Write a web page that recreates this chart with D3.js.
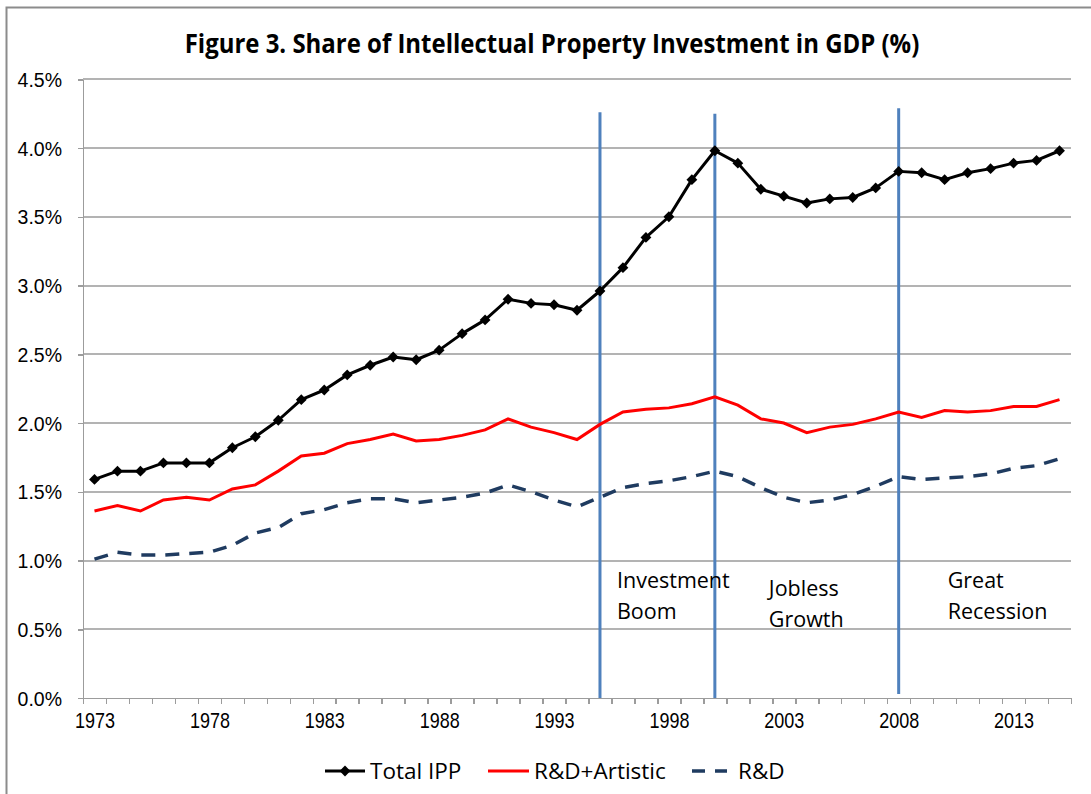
<!DOCTYPE html>
<meta charset="utf-8">
<style>
    body {
        margin: 0;
        background: #fff;
    }
    svg {
        font-family: "Open Sans", sans-serif;
    }
    .grid line {
        stroke: #b3b3b3;
        stroke-width: 1.5;
        shape-rendering: crispEdges;
    }
    .axis path,
    .axis line {
        fill: none;
        stroke: #9c9c9c;
        stroke-width: 1.5;
        shape-rendering: crispEdges;
    }
    .axis text {
        fill: #000;
    }
</style>
<body>
<script src="https://d3js.org/d3.v7.min.js"></script>
<script>
    // values (percent of GDP)
    const years = d3.range(1973, 2016);
    const totalIPP = [1.59, 1.65, 1.65, 1.71, 1.71, 1.71, 1.82, 1.90, 2.02, 2.17,
        2.24, 2.35, 2.42, 2.48, 2.46, 2.53, 2.65, 2.75, 2.90, 2.87,
        2.86, 2.82, 2.96, 3.13, 3.35, 3.50, 3.77, 3.98, 3.89, 3.70,
        3.65, 3.60, 3.63, 3.64, 3.71, 3.83, 3.82, 3.77, 3.82, 3.85,
        3.89, 3.91, 3.98];
    const rdArtistic = [1.36, 1.40, 1.36, 1.44, 1.46, 1.44, 1.52, 1.55, 1.65, 1.76,
        1.78, 1.85, 1.88, 1.92, 1.87, 1.88, 1.91, 1.95, 2.03, 1.97,
        1.93, 1.88, 1.99, 2.08, 2.10, 2.11, 2.14, 2.19, 2.13, 2.03,
        2.00, 1.93, 1.97, 1.99, 2.03, 2.08, 2.04, 2.09, 2.08, 2.09,
        2.12, 2.12, 2.17];
    const rd = [1.01, 1.06, 1.04, 1.04, 1.05, 1.06, 1.11, 1.20, 1.24, 1.34,
        1.37, 1.42, 1.45, 1.45, 1.42, 1.44, 1.46, 1.49, 1.55, 1.50,
        1.44, 1.39, 1.46, 1.53, 1.56, 1.58, 1.61, 1.65, 1.61, 1.53,
        1.46, 1.42, 1.44, 1.48, 1.54, 1.61, 1.59, 1.60, 1.61, 1.63,
        1.67, 1.69, 1.74];
    const yTicks = [0, 0.5, 1, 1.5, 2, 2.5, 3, 3.5, 4, 4.5];
    const xLabels = [1973, 1978, 1983, 1988, 1993, 1998, 2003, 2008, 2013];

    // period markers: year, top and bottom of the drawn line (in %)
    const periodYears = [1995, 2000, 2008];
    const periodTops = [4.26, 4.25, 4.29];
    const periodBottoms = [0, 0, 0.03];
    const periodLabels = [["Investment", "Boom"], ["Jobless", "Growth"], ["Great", "Recession"]];

    const seriesNames = ["Total IPP", "R&D+Artistic", "R&D"];

    const W = 1091, H = 794;
    const svg = d3.select("body").append("svg")
        .attr("width", W)
        .attr("height", H);

    // outer chart border (continues past the right and bottom edges)
    svg.append("rect")
        .attr("x", 6.5).attr("y", 7.5)
        .attr("width", W + 20).attr("height", H + 20)
        .attr("fill", "none")
        .attr("stroke", "#8c8c8c")
        .attr("stroke-width", 2);

    const x = d3.scaleLinear().domain([1972.5, 2015.5]).range([83, 1071]);
    const y = d3.scaleLinear().domain([0, 4.5]).range([698, 79.25]);

    // gridlines
    svg.append("g")
        .attr("class", "grid")
        .selectAll("line")
        .data(yTicks.filter(d => d > 0))
        .enter().append("line")
        .attr("x1", x.range()[0])
        .attr("x2", x.range()[1])
        .attr("y1", d => Math.round(y(d)))
        .attr("y2", d => Math.round(y(d)));

    // y axis
    const yAxis = svg.append("g")
        .attr("class", "axis")
        .attr("transform", "translate(" + x.range()[0] + ",0)")
        .call(d3.axisLeft(y).tickValues(yTicks).tickSize(5).tickSizeOuter(0)
            .tickPadding(16).tickFormat(d => d.toFixed(1) + "%"));
    yAxis.selectAll("text")
        .style("font-size", "19.5px")
        .attr("dy", "0.36em");

    // x axis: ticks on category boundaries
    svg.append("g")
        .attr("class", "axis")
        .attr("transform", "translate(0," + y(0) + ")")
        .call(d3.axisBottom(x).tickValues(d3.range(1972.5, 2016, 1)).tickSize(6)
            .tickSizeOuter(0).tickFormat(""));

    const xLab = svg.append("g")
        .attr("transform", "translate(0," + y(0) + ")")
        .call(d3.axisBottom(x).tickValues(xLabels).tickSize(0).tickPadding(13)
            .tickFormat(d3.format("d")));
    xLab.select(".domain").remove();
    xLab.selectAll("text")
        .style("font-size", "20px")
        .attr("fill", "#000")
        .attr("transform", "scale(0.9,1.1)");

    // period markers
    svg.append("g")
        .selectAll("line")
        .data(periodYears)
        .enter().append("line")
        .attr("x1", d => x(d)).attr("x2", d => x(d))
        .attr("y1", (d, i) => y(periodTops[i]))
        .attr("y2", (d, i) => y(periodBottoms[i]))
        .attr("stroke", "#4f81bd")
        .attr("stroke-width", 3);

    const ann = svg.append("g")
        .selectAll("text")
        .data(periodLabels)
        .enter().append("text")
        .attr("x", (d, i) => x(periodYears[i]) + [17, 54, 49][i])
        .attr("y", (d, i) => y([0.80, 0.74, 0.80][i]))
        .style("font-size", "21.5px")
        .attr("fill", "#000");
    ann.selectAll("tspan")
        .data(d => d)
        .enter().append("tspan")
        .attr("x", function() { return this.parentNode.getAttribute("x"); })
        .attr("dy", (d, i) => i === 0 ? 0 : 31)
        .text(d => d);

    // series
    const line = d3.line()
        .x((d, i) => x(years[i]))
        .y(d => y(d));

    svg.append("path")
        .datum(rd)
        .attr("d", line)
        .attr("fill", "none")
        .attr("stroke", "#1f3b60")
        .attr("stroke-width", 3.5)
        .attr("stroke-dasharray", "14,10");

    svg.append("path")
        .datum(rdArtistic)
        .attr("d", line)
        .attr("fill", "none")
        .attr("stroke", "#ff0000")
        .attr("stroke-width", 3);

    svg.append("path")
        .datum(totalIPP)
        .attr("d", line)
        .attr("fill", "none")
        .attr("stroke", "#000")
        .attr("stroke-width", 3)
        .attr("stroke-linejoin", "round");

    const diamond = d3.symbol().type(d3.symbolDiamond2).size(75);
    svg.append("g")
        .selectAll("path")
        .data(totalIPP)
        .enter().append("path")
        .attr("d", diamond)
        .attr("transform", (d, i) => "translate(" + x(years[i]) + "," + y(d) + ")")
        .attr("fill", "#000");

    // title
    const title = svg.append("text")
        .attr("x", 552)
        .attr("y", 53)
        .attr("text-anchor", "middle")
        .style("font-size", "27.5px")
        .style("font-weight", "bold")
        .text("Figure 3. Share of Intellectual Property Investment in GDP (%)");
    const tw = title.node().getComputedTextLength();
    title.attr("transform", "translate(552,0) scale(" + (735 / tw) + ",1) translate(-552,0)");

    // legend
    const legend = svg.append("g").attr("transform", "translate(0,771)");
    const legX = [325, 488, 692];
    const legW = [40, 41, 35];
    const legStroke = ["#000", "#ff0000", "#1f3b60"];
    const legItem = legend.selectAll("g")
        .data(seriesNames)
        .enter().append("g")
        .attr("transform", (d, i) => "translate(" + legX[i] + ",0)");
    legItem.append("line")
        .attr("x1", 0).attr("x2", (d, i) => legW[i])
        .attr("stroke", (d, i) => legStroke[i])
        .attr("stroke-width", (d, i) => i === 2 ? 3.5 : 3)
        .attr("stroke-dasharray", (d, i) => i === 2 ? "13,10" : null);
    legItem.filter((d, i) => i === 0).append("path")
        .attr("d", diamond)
        .attr("transform", "translate(20,0)");
    legItem.append("text")
        .attr("x", (d, i) => legW[i] + [5, 5, 11][i])
        .attr("y", 0)
        .attr("dy", "0.36em")
        .style("font-size", "22.5px")
        .text(d => d);
</script>
</body>
</html>
